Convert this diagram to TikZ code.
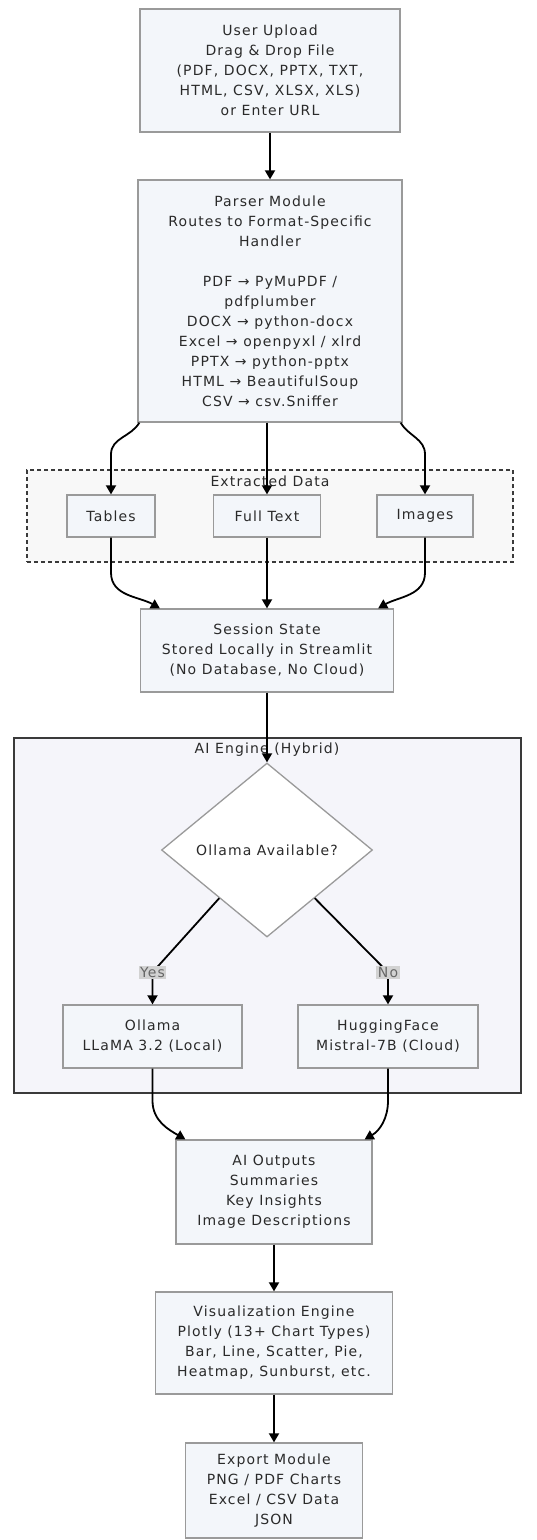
\documentclass[tikz,border=0pt]{standalone}
\usepackage{fontspec}
\setmainfont[LetterSpace=8]{DejaVu Sans}
\usetikzlibrary{shapes.geometric,arrows.meta,calc}
\definecolor{boxfill}{HTML}{F3F6FA}
\definecolor{boxdraw}{HTML}{9A9A9A}
\definecolor{txt}{HTML}{2A2A2A}
\definecolor{grpfill}{HTML}{F5F5FA}
\definecolor{grpdraw}{HTML}{3A3A3A}
\definecolor{dashfill}{HTML}{F8F8F8}
\definecolor{lblfill}{HTML}{D2D2D2}
\begin{document}
\begin{tikzpicture}[x=1pt,y=1pt,
  font=\fontsize{14}{20}\selectfont, text=txt,
  box/.style={draw=boxdraw, fill=boxfill, line width=1.3pt, align=center, inner sep=0pt},
  arr/.style={line width=1.8pt, draw=black, -{Triangle[width=10pt,length=9pt]}},
  lbl/.style={fill=lblfill, inner sep=1.5pt, text=black!60},
  grplbl/.style={inner sep=0pt, text=txt},
]
\useasboundingbox (0,0) rectangle (536,-1540);
\fill[white] (0,0) rectangle (536,-1540);

% groups
\node[draw=grpdraw, dashed, dash pattern=on 4pt off 3pt, line width=1.4pt, fill=dashfill,
      minimum width=486, minimum height=92, inner sep=0pt] (grpx) at (270,-516) {};
\node[grplbl] (grpxlbl) at (270,-481) {Extracted Data};
\node[draw=grpdraw, line width=1.6pt, fill=grpfill,
      minimum width=507, minimum height=355, inner sep=0pt] (grpai) at (267.5,-915.5) {};
\node[grplbl] (grpailbl) at (267,-750) {AI Engine (Hybrid)};

% nodes
\node[box, minimum width=260, minimum height=123] (up) at (270,-70.5)
  {User Upload\\Drag \& Drop File\\(PDF, DOCX, PPTX, TXT,\\HTML, CSV, XLSX, XLS)\\or Enter URL};
\node[box, minimum width=264, minimum height=242] (parser) at (270,-301)
  {Parser Module\\Routes to Format-Specific\\Handler\\[20pt]PDF → PyMuPDF /\\pdfplumber\\DOCX → python-docx\\Excel → openpyxl / xlrd\\PPTX → python-pptx\\HTML → BeautifulSoup\\CSV → csv.Sniffer};
\node[box, minimum width=88, minimum height=42] (tables) at (111,-516) {Tables};
\node[box, minimum width=107, minimum height=42] (fulltext) at (267,-516) {Full Text};
\node[box, minimum width=96, minimum height=42] (images) at (425,-516) {Images};
\node[box, minimum width=253, minimum height=83] (session) at (267,-650.5)
  {Session State\\Stored Locally in Streamlit\\(No Database, No Cloud)};
\node[diamond, aspect=1.2, draw=boxdraw, fill=white, line width=1.3pt,
      minimum width=211, minimum height=174, inner sep=0pt] (dia) at (267,-850) {Ollama Available?};
\node[box, minimum width=179, minimum height=63] (ollama) at (152.5,-1036.5)
  {Ollama\\LLaMA 3.2 (Local)};
\node[box, minimum width=180, minimum height=63] (hf) at (388,-1036.5)
  {HuggingFace\\Mistral-7B (Cloud)};
\node[box, minimum width=196, minimum height=104] (aiout) at (274,-1192)
  {AI Outputs\\Summaries\\Key Insights\\Image Descriptions};
\node[box, minimum width=237, minimum height=102] (viz) at (274,-1343)
  {Visualization Engine\\Plotly (13+ Chart Types)\\Bar, Line, Scatter, Pie,\\Heatmap, Sunburst, etc.};
\node[box, minimum width=177, minimum height=95] (export) at (274,-1490.5)
  {Export Module\\PNG / PDF Charts\\Excel / CSV Data\\JSON};

% connectors
\draw[arr] (up.south) -- (parser.north);
\draw[arr] ([xshift=2pt]parser.south west) to[out=-120,in=90] ($(tables.north)+(0,40)$) -- (tables.north);
\draw[arr] (parser.south -| fulltext.north) -- (fulltext.north);
\draw[arr] ([xshift=-2pt]parser.south east) to[out=-60,in=90] ($(images.north)+(0,40)$) -- (images.north);
\draw[arr] (tables.south) -- ($(tables.south)+(0,-35)$) to[out=-90,in=150] ($(session.north west)+(20,0)$);
\draw[arr] (fulltext.south) -- (fulltext.south |- session.north);
\draw[arr] (images.south) -- ($(images.south)+(0,-35)$) to[out=-90,in=30] ($(session.north east)+(-16,0)$);
\draw[arr] (session.south) -- (session.south |- dia.north);
\draw[arr] ($(dia.west)!0.55!(dia.south)$) -- ($(ollama.north)+(0,32)$) -- (ollama.north);
\draw[arr] ($(dia.east)!0.55!(dia.south)$) -- ($(hf.north)+(0,32)$) -- (hf.north);
\node[lbl] (yes) at ($(ollama.north)+(0,32)$) {Yes};
\node[lbl] (no) at ($(hf.north)+(0,32)$) {No};
\draw[arr] (ollama.south) -- ($(ollama.south)+(0,-32)$) to[out=-90,in=150] ($(aiout.north west)+(10,0)$);
\draw[arr] (hf.south) -- ($(hf.south)+(0,-32)$) to[out=-90,in=30] ($(aiout.north east)+(-8,0)$);
\draw[arr] (aiout.south) -- (aiout.south |- viz.north);
\draw[arr] (viz.south) -- (viz.south |- export.north);
\end{tikzpicture}
\end{document}
